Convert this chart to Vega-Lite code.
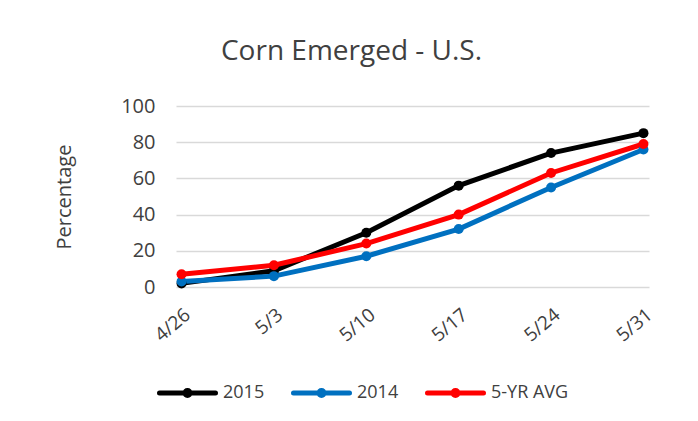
{
  "$schema": "https://vega.github.io/schema/vega-lite/v6.json",
  "autosize": "none",
  "width": 473,
  "height": 181,
  "padding": {"left": 176, "top": 106, "right": 49, "bottom": 134},
  "background": "white",
  "config": {
    "view": {"stroke": null},
    "font": "Open Sans"
  },
  "title": {
    "text": "Corn Emerged - U.S.",
    "anchor": "middle",
    "frame": "group",
    "dx": -61,
    "baseline": "alphabetic",
    "offset": 8,
    "fontSize": 28,
    "fontWeight": "normal",
    "color": "#404040",
    "font": "Open Sans"
  },
  "data": {
    "values": [
      {"week": "4/26", "series": "2015", "pct": 2},
      {"week": "5/3", "series": "2015", "pct": 9},
      {"week": "5/10", "series": "2015", "pct": 30},
      {"week": "5/17", "series": "2015", "pct": 56},
      {"week": "5/24", "series": "2015", "pct": 74},
      {"week": "5/31", "series": "2015", "pct": 85},
      {"week": "4/26", "series": "2014", "pct": 3},
      {"week": "5/3", "series": "2014", "pct": 6},
      {"week": "5/10", "series": "2014", "pct": 17},
      {"week": "5/17", "series": "2014", "pct": 32},
      {"week": "5/24", "series": "2014", "pct": 55},
      {"week": "5/31", "series": "2014", "pct": 76},
      {"week": "4/26", "series": "5-YR AVG", "pct": 7},
      {"week": "5/3", "series": "5-YR AVG", "pct": 12},
      {"week": "5/10", "series": "5-YR AVG", "pct": 24},
      {"week": "5/17", "series": "5-YR AVG", "pct": 40},
      {"week": "5/24", "series": "5-YR AVG", "pct": 63},
      {"week": "5/31", "series": "5-YR AVG", "pct": 79}
    ]
  },
  "mark": {"type": "line", "strokeWidth": 5, "point": {"filled": true, "size": 100}},
  "encoding": {
    "x": {
      "field": "week",
      "type": "ordinal",
      "sort": ["4/26", "5/3", "5/10", "5/17", "5/24", "5/31"],
      "scale": {"type": "point", "padding": 0.06},
      "axis": {
        "title": null,
        "domain": false,
        "ticks": false,
        "grid": false,
        "labelAngle": -40,
        "labelPadding": 18,
        "labelFontSize": 19,
        "labelColor": "#404040",
        "labelFont": "Open Sans"
      }
    },
    "y": {
      "field": "pct",
      "type": "quantitative",
      "scale": {"domain": [0, 100]},
      "axis": {
        "title": "Percentage",
        "titleFontSize": 20,
        "titleFontWeight": "normal",
        "titleColor": "#404040",
        "titleFont": "Open Sans",
        "titlePadding": 46,
        "values": [0, 20, 40, 60, 80, 100],
        "domain": false,
        "ticks": false,
        "grid": true,
        "gridColor": "#D9D9D9",
        "gridWidth": 1.5,
        "labelPadding": 21,
        "labelFontSize": 20,
        "labelColor": "#404040",
        "labelFont": "Open Sans"
      }
    },
    "color": {
      "field": "series",
      "type": "nominal",
      "sort": ["2015", "2014", "5-YR AVG"],
      "scale": {"domain": ["2015", "2014", "5-YR AVG"], "range": ["#000000", "#0070C0", "#FF0000"]},
      "legend": {
        "title": null,
        "orient": "none",
        "direction": "horizontal",
        "legendX": -19,
        "legendY": 256,
        "symbolType": "M-1,0L1,0M-0.09,0A0.09,0.09,0,1,0,0.09,0A0.09,0.09,0,1,0,-0.09,0Z",
        "symbolSize": 3136,
        "symbolStrokeWidth": 5,
        "labelFontSize": 18,
        "labelColor": "#404040",
        "labelFont": "Open Sans",
        "labelOffset": 5,
        "columnPadding": 18,
        "encode": {
          "symbols": {
            "update": {
              "fill": {"scale": "color", "field": "value"},
              "stroke": {"scale": "color", "field": "value"},
              "strokeWidth": {"value": 5},
              "strokeCap": {"value": "round"}
            }
          }
        }
      }
    }
  }
}
